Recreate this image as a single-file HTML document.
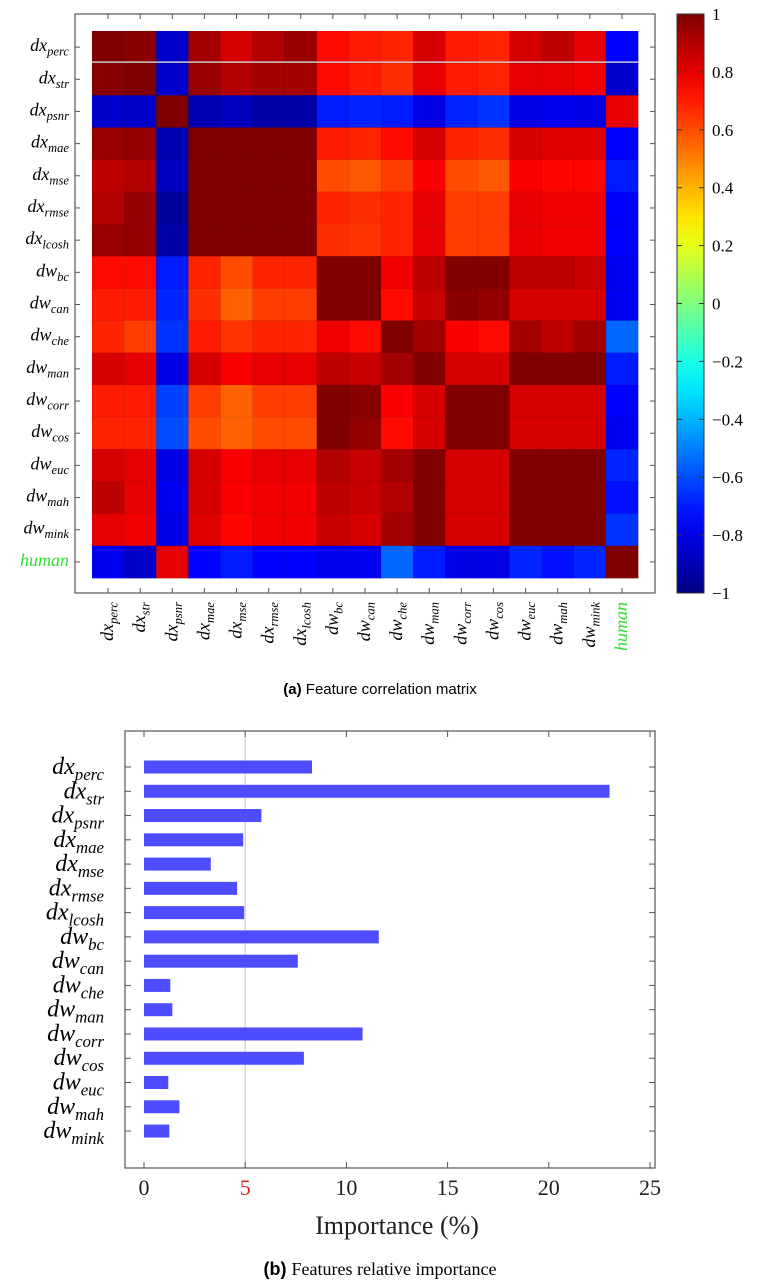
<!DOCTYPE html>
<html><head><meta charset="utf-8"><style>
body{margin:0;background:#fff;width:761px;height:1283px;overflow:hidden}
svg text{font-family:"Liberation Serif",serif}
</style></head><body>
<svg id="s" width="761" height="1283" xmlns="http://www.w3.org/2000/svg">
<g id="hm"></g>
<g id="bc"></g>
<text x="380" y="694" text-anchor="middle" font-size="15" style="font-family:'Liberation Sans',sans-serif"><tspan font-weight="bold">(a)</tspan> Feature correlation matrix</text>
<text x="380" y="1275" text-anchor="middle" font-size="18" style="font-family:'Liberation Sans',sans-serif"><tspan font-weight="bold">(b)</tspan> <tspan style="font-family:'Liberation Serif',serif">Features relative importance</tspan></text>
</svg>
<script>
const labels=[["x","perc"],["x","str"],["x","psnr"],["x","mae"],["x","mse"],["x","rmse"],["x","lcosh"],["w","bc"],["w","can"],["w","che"],["w","man"],["w","corr"],["w","cos"],["w","euc"],["w","mah"],["w","mink"],["h","human"]];
const corr=[
[1,.9,-.85,.85,.75,.82,.87,.65,.62,.6,.75,.62,.6,.75,.8,.72,-.75],
[.9,1,-.85,.87,.82,.85,.85,.65,.62,.58,.72,.62,.6,.72,.72,.7,-.85],
[-.85,-.85,1,-.9,-.88,-.92,-.92,-.7,-.68,-.7,-.8,-.68,-.65,-.8,-.78,-.8,.72],
[.87,.88,-.9,1,.92,.93,.95,.62,.6,.65,.75,.6,.58,.75,.73,.73,-.75],
[.8,.82,-.88,.92,1,.95,.92,.52,.5,.55,.68,.52,.5,.68,.66,.66,-.7],
[.82,.88,-.95,.93,.95,1,.95,.6,.58,.6,.72,.55,.55,.72,.7,.7,-.75],
[.87,.88,-.92,.95,.92,.95,1,.58,.57,.6,.72,.55,.55,.72,.7,.7,-.75],
[.65,.65,-.7,.6,.52,.6,.6,1,.97,.7,.8,.95,.92,.8,.8,.78,-.78],
[.62,.62,-.68,.58,.48,.55,.55,.97,1,.65,.78,.9,.88,.75,.75,.75,-.78],
[.6,.55,-.65,.62,.57,.6,.6,.7,.65,1,.85,.68,.65,.85,.8,.85,-.55],
[.75,.72,-.8,.75,.68,.72,.72,.8,.78,.85,1,.75,.75,.97,.92,.95,-.7],
[.62,.62,-.62,.55,.48,.55,.55,.95,.9,.68,.75,1,.98,.75,.75,.75,-.75],
[.6,.6,-.6,.52,.48,.52,.52,.93,.88,.65,.75,.98,1,.75,.75,.75,-.78],
[.75,.72,-.8,.75,.68,.72,.72,.82,.78,.85,.97,.75,.75,1,.92,.97,-.68],
[.8,.72,-.78,.75,.68,.7,.7,.8,.78,.82,.92,.75,.75,.92,1,.92,-.72],
[.72,.7,-.8,.73,.66,.7,.7,.78,.75,.85,.95,.75,.75,.97,.92,1,-.65],
[-.78,-.85,.72,-.75,-.7,-.75,-.75,-.78,-.78,-.55,-.7,-.8,-.8,-.68,-.72,-.68,1]];
const cbTicks=[1,0.8,0.6,0.4,0.2,0,-0.2,-0.4,-0.6,-0.8,-1];
const importance=[8.3,23,5.8,4.9,3.3,4.6,4.95,11.6,7.6,1.3,1.4,10.8,7.9,1.2,1.75,1.25];
const xTicks=[0,5,10,15,20,25];
const NS="http://www.w3.org/2000/svg";
function mk(p,t,a){const e=document.createElementNS(NS,t);for(const k in a)e.setAttribute(k,a[k]);p.appendChild(e);return e;}
function jet(v){const t=(v+1)/2;const f=x=>Math.max(0,Math.min(1,x));
const r=f(1.5-Math.abs(4*t-3)),g=f(1.5-Math.abs(4*t-2)),b=f(1.5-Math.abs(4*t-1));
return `rgb(${Math.round(r*255)},${Math.round(g*255)},${Math.round(b*255)})`;}
function cellColor(v){return jet(v>0?Math.min(1,v+0.08):v);}
function lab(p,x,y,l,fs,anchor,rot){
 const t=mk(p,'text',{x:x,y:y,'font-size':fs,'text-anchor':anchor,'font-style':'italic'});
 if(rot)t.setAttribute('transform',`rotate(-90 ${x} ${y})`);
 if(l[0]==='h'){t.textContent='human';t.setAttribute('fill','#33dd33');}
 else{const a=document.createElementNS(NS,'tspan');a.textContent='d'+l[0];t.appendChild(a);
 const b=document.createElementNS(NS,'tspan');b.textContent=l[1];b.setAttribute('font-size',fs*0.7);b.setAttribute('dy',fs*0.25);t.appendChild(b);}
 return t;}
// heatmap
const hm=document.getElementById('hm');
const n=labels.length,cx0=92,cy0=31,cw=(638-92)/n,ch=(578-31)/n;
const X=i=>cx0+i*cw,Y=i=>cy0+i*ch;
let fr=mk(hm,'rect',{x:75,y:14,width:580,height:579,fill:'none',stroke:'#555','stroke-width':1.2});

for(let i=0;i<n;i++)for(let j=0;j<n;j++){
 const c=mk(hm,'rect',{x:X(j),y:Y(i),width:cw+0.3,height:ch+0.3,fill:cellColor(corr[i][j]),stroke:'rgba(0,0,0,0.15)','stroke-width':0.5});
 
 }
mk(hm,'line',{x1:X(0),x2:X(n),y1:Y(1)-1,y2:Y(1)-1,stroke:'#ccc','stroke-width':1.5});
for(let i=0;i<n;i++){
 const yc=Y(i)+ch/2,xc=X(i)+cw/2;
 mk(hm,'line',{x1:75,x2:80,y1:yc,y2:yc,stroke:'#555'});
 mk(hm,'line',{x1:650,x2:655,y1:yc,y2:yc,stroke:'#555'});
 mk(hm,'line',{x1:xc,x2:xc,y1:14,y2:19,stroke:'#555'});
 mk(hm,'line',{x1:xc,x2:xc,y1:588,y2:593,stroke:'#555'});
 const yl=lab(hm,69,yc+4,labels[i],18,'end',false);
 
 const xl=lab(hm,xc+5,602,labels[i],18,'end',true);
 }
// colorbar
const cbT=14,cbB=593,cbX=677,cbW=27;
const V=v=>cbB-(v+1)/2*(cbB-cbT);
const defs=mk(hm,'defs',{});const gr=mk(defs,'linearGradient',{id:'jg',x1:0,y1:1,x2:0,y2:0});
for(let k=0;k<=20;k++){mk(gr,'stop',{offset:k/20,'stop-color':jet(-1+k/10)});}
const cb=mk(hm,'rect',{x:cbX,y:cbT,width:cbW,height:cbB-cbT,fill:'url(#jg)',stroke:'#333','stroke-width':1});

cbTicks.forEach(v=>{const y=V(v);
 mk(hm,'line',{x1:cbX,x2:cbX+5,y1:y,y2:y,stroke:'#333'});mk(hm,'line',{x1:cbX+cbW-5,x2:cbX+cbW,y1:y,y2:y,stroke:'#333'});
 const t=mk(hm,'text',{x:712,y:y+6,'font-size':17});t.textContent=(v<0?'\u2212':'')+String(Math.abs(v));
 });
// bar chart
const bc=document.getElementById('bc');
const bx0=144,bx1=650,bT=731,bB=1168,bL=125,bR=655;
const BX=v=>bx0+(v-xTicks[0])/(xTicks[xTicks.length-1]-xTicks[0])*(bx1-bx0);
const BY=i=>767+i*24.27;
mk(bc,'line',{x1:BX(5),x2:BX(5),y1:bT,y2:bB,stroke:'#c8c8c8','stroke-width':1});
let bf=mk(bc,'rect',{x:bL,y:bT,width:bR-bL,height:bB-bT,fill:'none',stroke:'#555','stroke-width':1.2});

xTicks.forEach(v=>{const x=BX(v);
 mk(bc,'line',{x1:x,x2:x,y1:bT,y2:bT+6,stroke:'#555'});mk(bc,'line',{x1:x,x2:x,y1:bB-6,y2:bB,stroke:'#555'});
 const t=mk(bc,'text',{x:x,y:1195,'font-size':22,'text-anchor':'middle',fill:v===5?'#dd2222':'#222'});t.textContent=v;
 });
importance.forEach((v,i)=>{const y=BY(i);
 mk(bc,'line',{x1:bL,x2:bL+6,y1:y,y2:y,stroke:'#555'});mk(bc,'line',{x1:bR-6,x2:bR,y1:y,y2:y,stroke:'#555'});
 const r=mk(bc,'rect',{x:BX(0),y:y-6.5,width:BX(v)-BX(0),height:13,fill:'#4d4dff'});
 
 const l=lab(bc,104,y+7,labels[i],24,'end',false);
 });
const xt=mk(bc,'text',{x:397,y:1234,'font-size':26,'text-anchor':'middle',fill:'#222'});xt.textContent='Importance (%)';

</script>
</body></html>
